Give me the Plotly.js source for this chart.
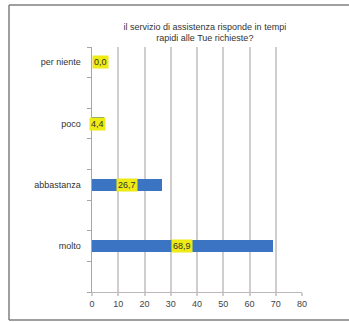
<!DOCTYPE html>
<html>
<head>
<meta charset="utf-8">
<script src="https://cdn.plot.ly/plotly-3.0.1.min.js"></script>
<style>html,body{margin:0;padding:0;background:#fff;}#chart{width:349px;height:322px;}</style>
</head>
<body>
<div id="chart"></div>
<script>
var categories = ["per niente", "poco", "abbastanza", "molto"];
var values = [0.0, 4.4, 26.7, 68.9];
var valueLabels = ["0,0", "4,4", "26,7", "68,9"];
var xTicks = [0, 10, 20, 30, 40, 50, 60, 70, 80];
var titleText = "il servizio di assistenza risponde in tempi<br>rapidi alle Tue richieste?";

var n = categories.length;
// each category occupies two slots; top category first
var yPos = categories.map(function(c, i){ return 2 * (n - i) - 0.5; });
var slotTicks = [];
for (var k = 0; k <= 2 * n; k++) slotTicks.push(k);

var FONT = "Liberation Sans, Arial, sans-serif";

var trace = {
  type: "bar",
  orientation: "h",
  x: values,
  y: yPos,
  width: 0.4,
  marker: {color: "#3c74c4"},
  hoverinfo: "none"
};
var dummy = {type: "scatter", x: [0], y: [0], yaxis: "y2", mode: "none", hoverinfo: "none", showlegend: false};

var annotations = values.map(function(v, i){
  return {
    x: v === 0 ? 0 : v / 2,
    y: yPos[i],
    xref: "x", yref: "y",
    text: valueLabels[i],
    showarrow: false,
    xanchor: v === 0 ? "left" : "center",
    yanchor: "middle",
    bgcolor: "#eeea14",
    borderpad: 1,
    font: {family: FONT, size: 9, color: "#333"}
  };
});

function px2x(p){ return (p - 92) / 210; }
function px2y(p){ return (292 - p) / 245; }
var lineStyle = {color: "#7f7f7f", width: 1.5};
var shapes = [
  {type: "line", xref: "paper", yref: "paper", x0: px2x(9), x1: px2x(352), y0: px2y(5), y1: px2y(5), line: lineStyle},
  {type: "line", xref: "paper", yref: "paper", x0: px2x(9), x1: px2x(352), y0: px2y(320), y1: px2y(320), line: lineStyle},
  {type: "line", xref: "paper", yref: "paper", x0: px2x(9), x1: px2x(9), y0: px2y(5), y1: px2y(320), line: lineStyle}
];

var layout = {
  width: 349, height: 322,
  margin: {l: 92, r: 47, t: 47, b: 30},
  paper_bgcolor: "#fff", plot_bgcolor: "#fff",
  showlegend: false,
  title: {
    text: titleText,
    font: {family: FONT, size: 9, color: "#333"},
    xref: "container", x: 0.587, xanchor: "center",
    yref: "container", y: 0.908, yanchor: "top"
  },
  xaxis: {
    range: [0, 80],
    tickvals: xTicks,
    ticktext: xTicks.map(String),
    showgrid: true, gridcolor: "#d2cdcd", gridwidth: 2,
    zeroline: false,
    showline: true, linecolor: "#bdb8b8", linewidth: 1,
    ticks: "outside", ticklen: 3, tickcolor: "#d2cdcd", tickwidth: 2,
    tickfont: {family: FONT, size: 9, color: "#444"},
    fixedrange: true
  },
  yaxis: {
    range: [0, 2 * n],
    tickvals: yPos,
    ticktext: categories,
    ticks: "outside", ticklen: 8, tickcolor: "rgba(0,0,0,0)",
    showgrid: false, zeroline: false,
    showline: true, linecolor: "#a9a5a5", linewidth: 1.5,
    tickfont: {family: FONT, size: 9, color: "#333"},
    fixedrange: true
  },
  yaxis2: {
    overlaying: "y", side: "left",
    range: [0, 2 * n],
    tickvals: slotTicks,
    showticklabels: false,
    ticks: "outside", ticklen: 4, tickcolor: "#a9a5a5", tickwidth: 1,
    showgrid: false, zeroline: false, showline: false,
    fixedrange: true
  },
  annotations: annotations,
  shapes: shapes,
  bargap: 0
};

Plotly.newPlot("chart", [trace, dummy], layout, {displayModeBar: false, staticPlot: true});
</script>
</body>
</html>
